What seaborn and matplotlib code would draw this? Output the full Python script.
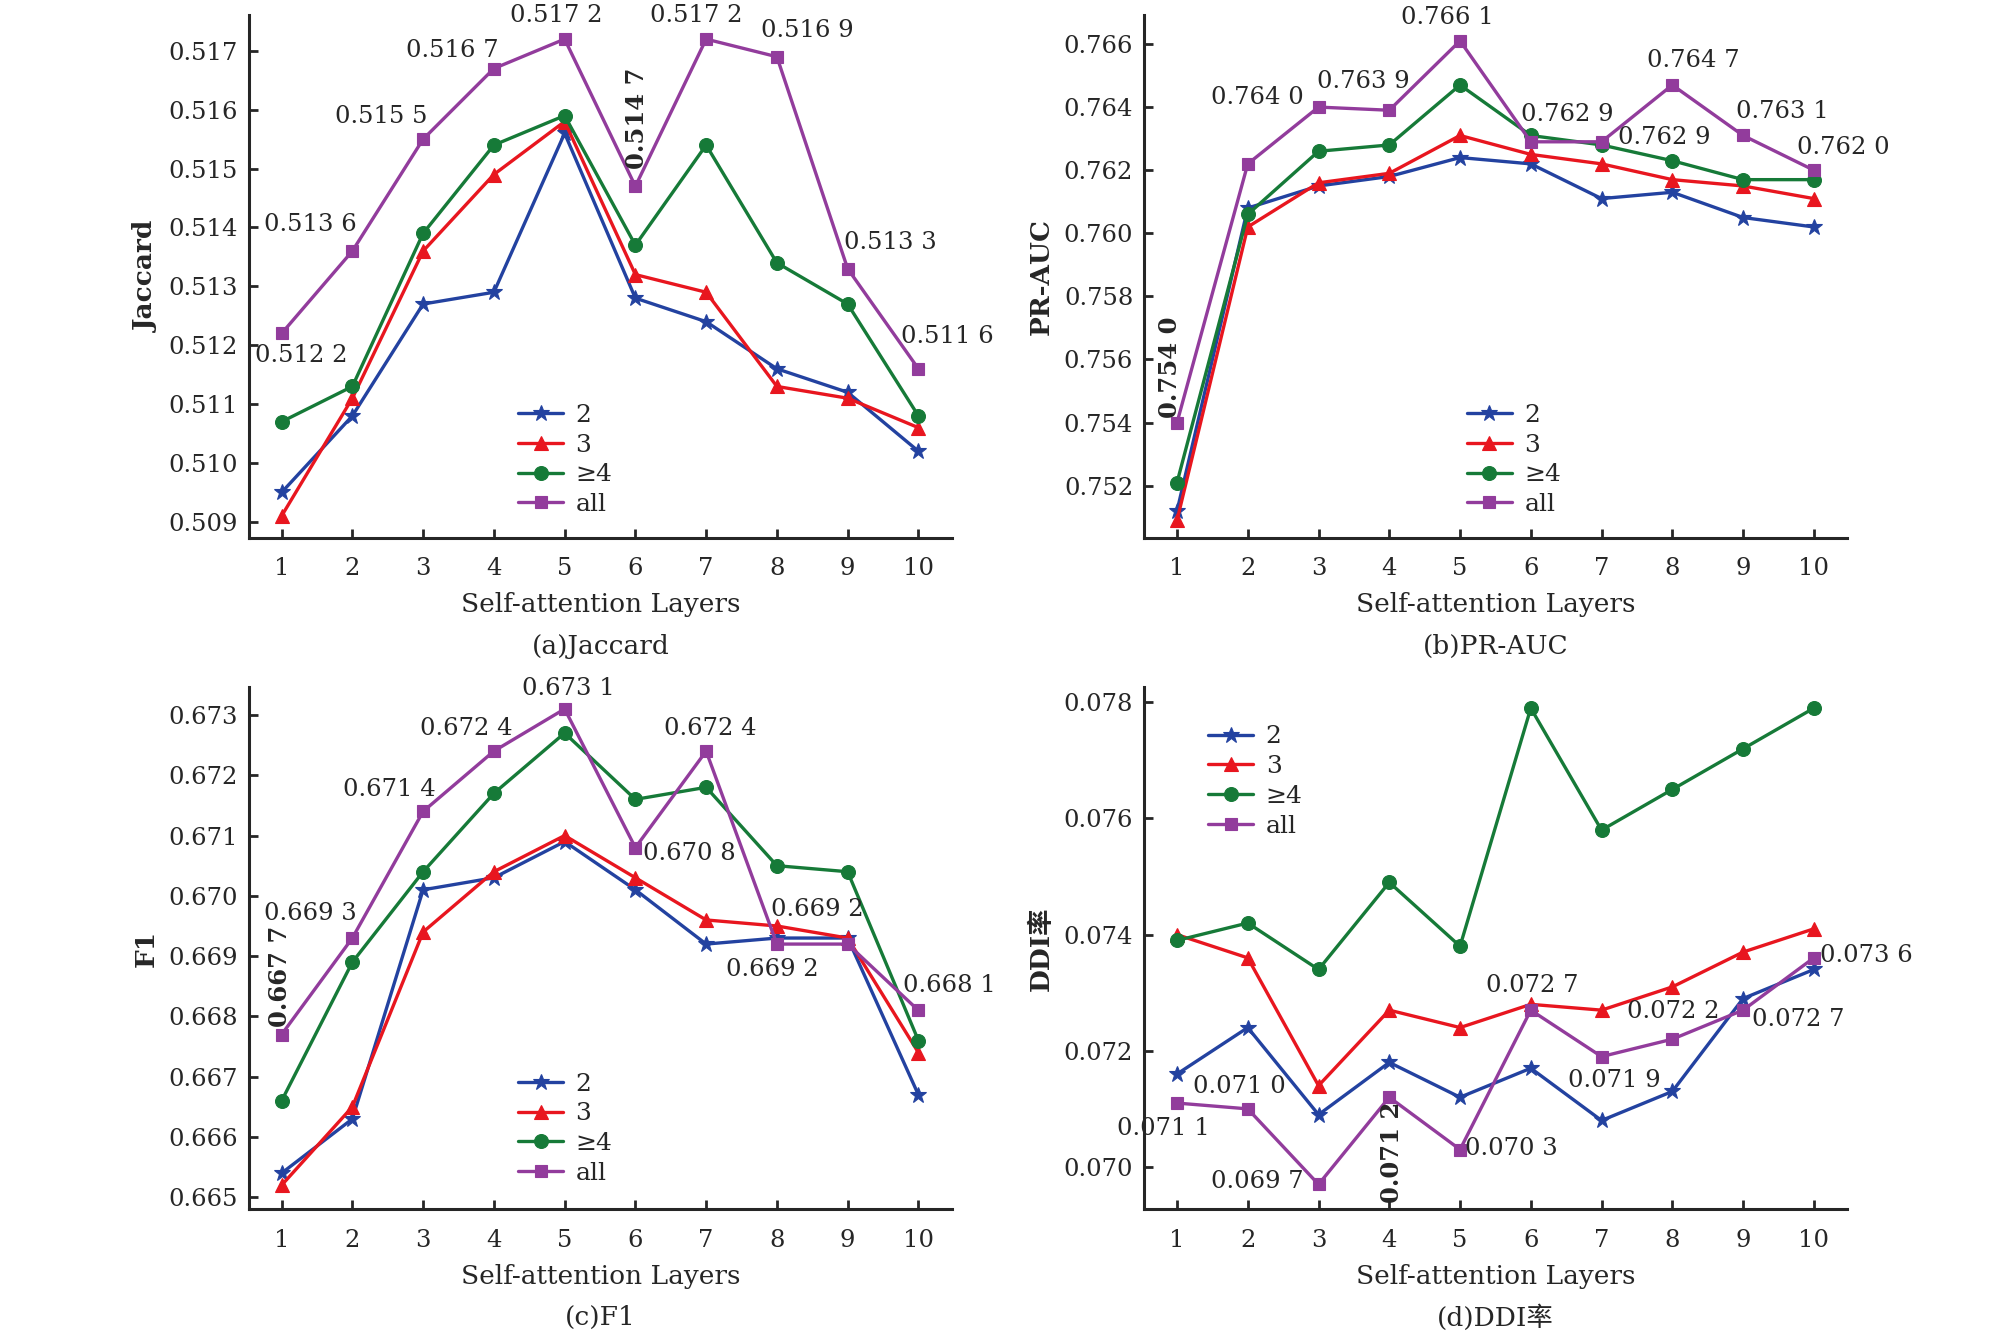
import numpy as np
import pandas as pd
import matplotlib
matplotlib.use("Agg")
import matplotlib.pyplot as plt
import seaborn as sns

layers = list(range(1, 11))
groups = ["2", "3", "≥4", "all"]

jac_2 = [0.5095, 0.5108, 0.5127, 0.5129, 0.5156, 0.5128, 0.5124, 0.5116, 0.5112, 0.5102]
jac_3 = [0.5091, 0.5111, 0.5136, 0.5149, 0.5158, 0.5132, 0.5129, 0.5113, 0.5111, 0.5106]
jac_4 = [0.5107, 0.5113, 0.5139, 0.5154, 0.5159, 0.5137, 0.5154, 0.5134, 0.5127, 0.5108]
jac_all = [0.5122, 0.5136, 0.5155, 0.5167, 0.5172, 0.5147, 0.5172, 0.5169, 0.5133, 0.5116]

pr_2 = [0.7512, 0.7608, 0.7615, 0.7618, 0.7624, 0.7622, 0.7611, 0.7613, 0.7605, 0.7602]
pr_3 = [0.7509, 0.7602, 0.7616, 0.7619, 0.7631, 0.7625, 0.7622, 0.7617, 0.7615, 0.7611]
pr_4 = [0.7521, 0.7606, 0.7626, 0.7628, 0.7647, 0.7631, 0.7628, 0.7623, 0.7617, 0.7617]
pr_all = [0.7540, 0.7622, 0.7640, 0.7639, 0.7661, 0.7629, 0.7629, 0.7647, 0.7631, 0.7620]

f1_2 = [0.6654, 0.6663, 0.6701, 0.6703, 0.6709, 0.6701, 0.6692, 0.6693, 0.6693, 0.6667]
f1_3 = [0.6652, 0.6665, 0.6694, 0.6704, 0.6710, 0.6703, 0.6696, 0.6695, 0.6693, 0.6674]
f1_4 = [0.6666, 0.6689, 0.6704, 0.6717, 0.6727, 0.6716, 0.6718, 0.6705, 0.6704, 0.6676]
f1_all = [0.6677, 0.6693, 0.6714, 0.6724, 0.6731, 0.6708, 0.6724, 0.6692, 0.6692, 0.6681]

ddi_2 = [0.0716, 0.0724, 0.0709, 0.0718, 0.0712, 0.0717, 0.0708, 0.0713, 0.0729, 0.0734]
ddi_3 = [0.0740, 0.0736, 0.0714, 0.0727, 0.0724, 0.0728, 0.0727, 0.0731, 0.0737, 0.0741]
ddi_4 = [0.0739, 0.0742, 0.0734, 0.0749, 0.0738, 0.0779, 0.0758, 0.0765, 0.0772, 0.0779]
ddi_all = [0.0711, 0.0710, 0.0697, 0.0712, 0.0703, 0.0727, 0.0719, 0.0722, 0.0727, 0.0736]

ylabels = ["Jaccard", "PR-AUC", "F1", "DDI率"]
subtitles = ["(a)Jaccard", "(b)PR-AUC", "(c)F1", "(d)DDI率"]
xlabel = "Self-attention Layers"
yticks_a = [0.509, 0.510, 0.511, 0.512, 0.513, 0.514, 0.515, 0.516, 0.517]
yticks_b = [0.752, 0.754, 0.756, 0.758, 0.760, 0.762, 0.764, 0.766]
yticks_c = [0.665, 0.666, 0.667, 0.668, 0.669, 0.670, 0.671, 0.672, 0.673]
yticks_d = [0.070, 0.072, 0.074, 0.076, 0.078]

# ---- styling (not data) ----
sns.set_style("ticks")
FAM = ["DejaVu Serif", "Noto Sans CJK SC", "DejaVu Sans"]
plt.rcParams["font.family"] = FAM
plt.rcParams["axes.unicode_minus"] = False

colors = ["#2342a0", "#e8161f", "#167a38", "#923c9c"]
markers = ["*", "^", "o", "s"]
msizes = [12, 10, 10, 8.5]

panels = [
    dict(series=[jac_2, jac_3, jac_4, jac_all], yt=yticks_a, ylim=(0.50873, 0.51761),
         pos=[0.1239, 0.5975, 0.3498, 0.3913], leg=(0.383, 0.256),
         offs=[(14, -16, 0), (-30, 19, 0), (-30, 16, 0), (-30, 13, 0), (-6, 17, 0),
               (1, 49, 90), (-7, 17, 0), (22, 19, 0), (31, 19, 0), (21, 23, 0)]),
    dict(series=[pr_2, pr_3, pr_4, pr_all], yt=yticks_b, ylim=(0.75035, 0.76692),
         pos=[0.5696, 0.5975, 0.3498, 0.3913], leg=(0.459, 0.256),
         offs=[(-5, 40, 90), None, (-44, 7, 0), (-19, 21, 0), (-9, 17, 0),
               (26, 20, 0), (45, 3, 0), (15, 18, 0), (28, 17, 0), (21, 16, 0)]),
    dict(series=[f1_2, f1_3, f1_4, f1_all], yt=yticks_c, ylim=(0.6648, 0.67346),
         pos=[0.1239, 0.0948, 0.3498, 0.3908], leg=(0.383, 0.262),
         offs=[(-1, 42, 90), (-30, 18, 0), (-24, 16, 0), (-20, 16, 0), (3, 15, 0),
               (39, -4, 0), (3, 16, 0), (-3, -18, 0), (-22, 25, 0), (22, 18, 0)]),
    dict(series=[ddi_2, ddi_3, ddi_4, ddi_all], yt=yticks_d, ylim=(0.06927, 0.07826),
         pos=[0.5696, 0.0948, 0.3498, 0.3908], leg=(0.091, 0.927),
         offs=[(-10, -18, 0), (-6, 16, 0), (-44, 2, 0), (2, -40, 90), (37, 1, 0),
               (1, 18, 0), (9, -17, 0), (1, 20, 0), (40, -7, 0), (38, 2, 0)]),
]

fig = plt.figure(figsize=(20.09, 13.36), dpi=100)

TICK_FS = 17.5
LEG_FS = 18
LAB_FS = 19

for i, p in enumerate(panels):
    ax = fig.add_axes(p["pos"])
    for g, vals, c, m, ms in zip(groups, p["series"], colors, markers, msizes):
        df = pd.DataFrame({"layer": layers, "value": vals})
        sns.lineplot(data=df, x="layer", y="value", ax=ax, color=c, marker=m,
                     markersize=ms, markeredgecolor=c, markeredgewidth=0.8,
                     linewidth=2.4, label=g)
    # annotations on "all" series
    allv = p["series"][3]
    for x, v, off in zip(layers, allv, p["offs"]):
        if off is None:
            continue
        s = f"{v:.4f}"
        s = s[:-1] + " " + s[-1]
        dx, dy, rot = off
        ax.annotate(s, (x, v), xytext=(dx, dy), textcoords="offset points",
                    ha="center", va="center", rotation=rot, fontsize=TICK_FS,
                    fontweight="bold" if rot else "normal", annotation_clip=False)
    ax.set_xlim(0.538, 10.47)
    ax.set_ylim(*p["ylim"])
    ax.set_xticks(layers)
    ax.set_yticks(p["yt"])
    ax.set_yticklabels([f"{t:.3f}" for t in p["yt"]])
    sns.despine(ax=ax)
    for sp in ["left", "bottom"]:
        ax.spines[sp].set_linewidth(2.2)
    ax.tick_params(direction="in", length=6.5, width=2, labelsize=TICK_FS)
    ax.tick_params(axis="y", pad=8)
    ax.tick_params(axis="x", pad=14)
    ax.set_xlabel(xlabel, fontsize=LAB_FS)
    ax.xaxis.set_label_coords(0.5, -0.128)
    ax.xaxis.label.set_verticalalignment("center")
    ax.set_ylabel(ylabels[i], fontsize=LAB_FS, fontweight="bold")
    ax.yaxis.set_label_coords(-0.146, 0.5)
    ax.yaxis.label.set_verticalalignment("center")
    leg = ax.legend(loc="upper left", bbox_to_anchor=p["leg"], frameon=False,
                    fontsize=LEG_FS, handlelength=1.8, handletextpad=0.5,
                    labelspacing=0.27, borderpad=0, borderaxespad=0)
    cx = p["pos"][0] + p["pos"][2] / 2
    cy = 0.5160 if i < 2 else 0.0137
    fig.text(cx, cy, subtitles[i], ha="center", va="center", fontsize=LAB_FS)

fig.savefig("out.png", dpi=100)
